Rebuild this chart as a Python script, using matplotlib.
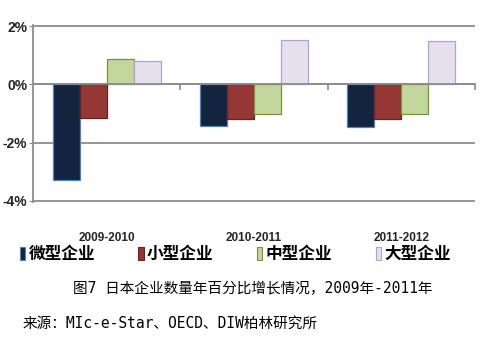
import numpy as np
import matplotlib
matplotlib.use("Agg")
import matplotlib.pyplot as plt
from matplotlib.patches import Rectangle

plt.rcParams['font.family'] = ['Noto Sans CJK SC', 'DejaVu Sans']

# data (percent growth per year)
periods = ['2009-2010', '2010-2011', '2011-2012']
series = ['微型企业', '小型企业', '中型企业', '大型企业']
micro = [-3.29, -1.44, -1.47]
small = [-1.16, -1.20, -1.20]
medium = [0.89, -1.00, -1.03]
large = [0.82, 1.54, 1.50]
yticks = [-4, -2, 0, 2]

face_colors = ['#13243F', '#953735', '#C3D69B', '#E6E0EC']
edge_colors = ['#4F81BD', '#632423', '#77933C', '#B3A2C7']
grid_color = '#8C8C8C'

fig = plt.figure(figsize=(4.85, 3.43), dpi=100)
ax = fig.add_axes([0.068, 0.412, 0.911, 0.514])

x = np.arange(len(periods))
w = 0.183
values = [micro, small, medium, large]
for i, vals in enumerate(values):
    ax.bar(x + (i - 1.5) * w, vals, width=w, color=face_colors[i],
           edgecolor=edge_colors[i], linewidth=0.9, zorder=3)

ax.set_xlim(-0.5, 2.5)
ax.set_ylim(-4.03, 2.03)

# y axis
ax.set_yticks(yticks)
ax.set_yticklabels([f'{v}%' for v in yticks], fontsize=10, weight='bold',
                   family='Liberation Sans', color='#262626')
ax.yaxis.grid(True, color=grid_color, linewidth=1.3)
ax.tick_params(axis='y', length=3, color=grid_color, pad=1)

# x axis sits on the zero line
for s in ['top', 'right']:
    ax.spines[s].set_visible(False)
ax.spines['left'].set_color(grid_color)
ax.spines['left'].set_linewidth(1.3)
ax.spines['bottom'].set_position(('data', 0))
ax.spines['bottom'].set_color(grid_color)
ax.spines['bottom'].set_linewidth(1.3)
ax.spines['bottom'].set_zorder(4)
ax.set_xticks(x)
ax.set_xticklabels(periods, fontsize=8.5, family='Liberation Sans',
                   weight='bold', color='#262626')
ax.tick_params(axis='x', which='major', length=0, pad=106)
ax.set_xticks([0.5, 1.5, 2.5], minor=True)
ax.tick_params(axis='x', which='minor', length=4, color=grid_color,
               width=1.2, direction='out')

# legend
handles = [Rectangle((0, 0), 1, 1, facecolor=face_colors[i],
                     edgecolor=edge_colors[i], linewidth=0.8)
           for i in range(4)]
fig.legend(handles, series, loc='center', ncol=4,
           bbox_to_anchor=(0.485, 1 - 254 / 343), frameon=False,
           prop={'size': 12, 'weight': 'bold'}, handlelength=0.33,
           handleheight=0.8, handletextpad=0.2, columnspacing=2.6,
           borderpad=0)

# captions
fig.text(73 / 485, 1 - 289 / 343, '图7 日本企业数量年百分比增长情况，2009年-2011年',
         fontsize=10.5, va='center', ha='left',
         family=['DejaVu Sans Mono', 'Noto Sans CJK SC'])
fig.text(23 / 485, 1 - 323 / 343, '来源：MIc-e-Star、OECD、DIW柏林研究所',
         fontsize=10.5, va='center', ha='left',
         family=['DejaVu Sans Mono', 'Noto Sans CJK SC'])

fig.savefig('out.png', dpi=100)
